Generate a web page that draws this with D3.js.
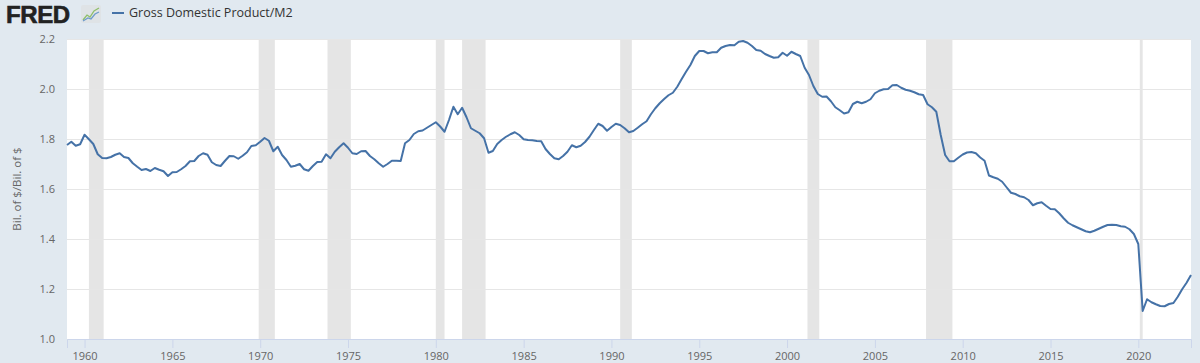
<!DOCTYPE html>
<html>
<head>
<meta charset="utf-8">
<script src="https://cdn.jsdelivr.net/npm/d3@7"></script>
<style>
  html, body { margin: 0; padding: 0; background: #e1e9f0; }
  svg { display: block; font-family: "Open Sans", sans-serif; }
</style>
</head>
<body>
<div id="chart"></div>
<script>
// GDP / M2, quarterly, starting 1959 Q1
var firstYear = 1959;
var seriesName = "Gross Domestic Product/M2";
var unitLabel = "Bil. of $/Bil. of $";
var values = [
  1.776, 1.789, 1.773, 1.779,  1.817, 1.799, 1.780, 1.739,
  1.724, 1.723, 1.728, 1.737,  1.743, 1.728, 1.724, 1.703,
  1.689, 1.676, 1.680, 1.672,  1.684, 1.677, 1.671, 1.652,
  1.667, 1.668, 1.679, 1.692,  1.711, 1.712, 1.732, 1.743,
  1.737, 1.707, 1.696, 1.692,  1.713, 1.732, 1.731, 1.721,
  1.733, 1.747, 1.772, 1.775,  1.789, 1.804, 1.793, 1.751,
  1.769, 1.736, 1.716, 1.689,  1.693, 1.700, 1.679, 1.673,
  1.692, 1.708, 1.709, 1.739,  1.723, 1.749, 1.767, 1.783,
  1.765, 1.743, 1.740, 1.751,  1.752, 1.732, 1.719, 1.703,
  1.689, 1.700, 1.713, 1.713,  1.712, 1.783, 1.796, 1.820,
  1.831, 1.834, 1.845, 1.856,  1.867, 1.850, 1.829, 1.876,
  1.929, 1.899, 1.925, 1.887,  1.843, 1.833, 1.823, 1.803,
  1.745, 1.752, 1.780, 1.796,  1.809, 1.819, 1.827, 1.816,
  1.799, 1.796, 1.795, 1.792,  1.791, 1.760, 1.740, 1.723,
  1.719, 1.732, 1.749, 1.775,  1.767, 1.773, 1.788, 1.809,
  1.836, 1.861, 1.852, 1.833,  1.848, 1.861, 1.856, 1.843,
  1.827, 1.832, 1.845, 1.859,  1.871, 1.899, 1.923, 1.943,
  1.960, 1.975, 1.985, 2.009,  2.040, 2.069, 2.096, 2.132,
  2.152, 2.152, 2.143, 2.147,  2.147, 2.165, 2.172, 2.176,
  2.175, 2.189, 2.192, 2.185,  2.172, 2.156, 2.153, 2.140,
  2.132, 2.125, 2.127, 2.145,  2.133, 2.149, 2.140, 2.132,
  2.085, 2.056, 2.012, 1.980,  1.969, 1.970, 1.951, 1.927,
  1.915, 1.902, 1.907, 1.940,  1.949, 1.943, 1.949, 1.959,
  1.983, 1.993, 1.999, 2.000,  2.015, 2.016, 2.005, 1.997,
  1.993, 1.987, 1.979, 1.976,  1.939, 1.927, 1.909, 1.816,
  1.736, 1.711, 1.711, 1.725,  1.738, 1.746, 1.748, 1.743,
  1.726, 1.713, 1.654, 1.647,  1.641, 1.629, 1.607, 1.585,
  1.580, 1.571, 1.567, 1.556,  1.535, 1.543, 1.547, 1.533,
  1.520, 1.519, 1.503, 1.483,  1.465, 1.455, 1.447, 1.439,
  1.431, 1.427, 1.433, 1.441,  1.449, 1.456, 1.457, 1.456,
  1.451, 1.449, 1.439, 1.420,  1.380, 1.112, 1.159, 1.147,
  1.139, 1.132, 1.131, 1.140,  1.144, 1.169, 1.199, 1.225,
  1.256
];
var recessionStarts = ["1960-04-01", "1969-12-01", "1973-11-01", "1980-01-01", "1981-07-01",
                       "1990-07-01", "2001-03-01", "2007-12-01", "2020-02-01"];
var recessionEnds   = ["1961-02-01", "1970-11-01", "1975-03-01", "1980-07-01", "1982-11-01",
                       "1991-03-01", "2001-11-01", "2009-06-01", "2020-04-01"];
var yTicks = [1.0, 1.2, 1.4, 1.6, 1.8, 2.0, 2.2];

var svgWidth = 1200, svgHeight = 363;
var margin = {top: 39, right: 9, bottom: 24, left: 67};
var width = svgWidth - margin.left - margin.right;
var height = svgHeight - margin.top - margin.bottom;

var parseDate = d3.timeParse("%Y-%m-%d");
var data = values.map(function(v, i) {
  return {date: new Date(firstYear + Math.floor(i / 4), (i % 4) * 3, 1), value: v};
});
var recessions = recessionStarts.map(function(s, i) {
  return {start: parseDate(s), end: parseDate(recessionEnds[i])};
});

var svg = d3.select("#chart").append("svg")
  .attr("width", svgWidth)
  .attr("height", svgHeight);

// header: logo + legend
var head = svg.append("g");
head.append("text")
  .attr("x", 6).attr("y", 23)
  .attr("font-family", "Liberation Sans, Arial, sans-serif")
  .attr("font-weight", "bold")
  .attr("font-size", 24)
  .attr("letter-spacing", -0.4)
  .attr("stroke", "#222").attr("stroke-width", 0.6)
  .attr("fill", "#222")
  .text("FRED");
var icon = head.append("g").attr("transform", "translate(81,5)");
icon.append("rect").attr("width", 20).attr("height", 18).attr("rx", 2).attr("fill", "#dfe3e6");
icon.append("path").attr("d", "M2,15 L6,10 L9,12 L13,6 L18,3")
  .attr("fill", "none").attr("stroke", "#8fbf6a").attr("stroke-width", 1.3);
icon.append("path").attr("d", "M2,16 L7,13 L10,14 L14,9 L18,7")
  .attr("fill", "none").attr("stroke", "#6f9ccc").attr("stroke-width", 1.3);
head.append("line")
  .attr("x1", 112).attr("x2", 124).attr("y1", 13).attr("y2", 13)
  .attr("stroke", "#4572a7").attr("stroke-width", 2);
head.append("text")
  .attr("x", 129).attr("y", 17)
  .attr("font-size", 12.5)
  .attr("fill", "#333")
  .text(seriesName);

var g = svg.append("g")
  .attr("transform", "translate(" + margin.left + "," + margin.top + ")");

var x = d3.scaleTime()
  .domain([new Date(1959, 0, 1), new Date(2023, 0, 1)])
  .range([0, width]);
var y = d3.scaleLinear()
  .domain([1.0, 2.2])
  .range([height, 0]);

g.append("rect")
  .attr("width", width).attr("height", height)
  .attr("fill", "#fff");

// recession bars
g.selectAll(".rec")
  .data(recessions)
  .enter().append("rect")
  .attr("class", "rec")
  .attr("x", function(d) { return x(d.start); })
  .attr("width", function(d) { return x(d.end) - x(d.start); })
  .attr("y", 0)
  .attr("height", height)
  .attr("fill", "#e5e5e5");

// grid + y labels
var yAxis = g.append("g")
  .call(d3.axisLeft(y).tickValues(yTicks).tickSize(-width).tickFormat(d3.format(".1f")));
yAxis.select(".domain").remove();
yAxis.selectAll(".tick line").attr("stroke", "#e6e6e6").attr("stroke-width", 1);
yAxis.selectAll(".tick text")
  .attr("x", -12)
  .attr("font-size", 11)
  .attr("font-family", "Open Sans, sans-serif")
  .attr("fill", "#666");

// x axis
var xAxis = g.append("g")
  .attr("transform", "translate(0," + height + ")")
  .call(d3.axisBottom(x).ticks(d3.timeYear.every(5)).tickSize(9).tickPadding(4).tickFormat(d3.timeFormat("%Y")));
xAxis.select(".domain").attr("stroke", "#ccd6eb");
xAxis.selectAll(".tick line").attr("stroke", "#ccd6eb");
xAxis.selectAll(".tick text")
  .attr("font-size", 11)
  .attr("font-family", "Open Sans, sans-serif")
  .attr("fill", "#666");

// y axis title
svg.append("text")
  .attr("transform", "translate(21," + (margin.top + height / 2) + ") rotate(-90)")
  .attr("text-anchor", "middle")
  .attr("font-size", 11.5)
  .attr("fill", "#666")
  .text(unitLabel);

var line = d3.line()
  .x(function(d) { return x(d.date); })
  .y(function(d) { return y(d.value); });

g.append("path")
  .datum(data)
  .attr("fill", "none")
  .attr("stroke", "#4572a7")
  .attr("stroke-width", 2)
  .attr("stroke-linejoin", "round")
  .attr("d", line);
</script>
</body>
</html>
